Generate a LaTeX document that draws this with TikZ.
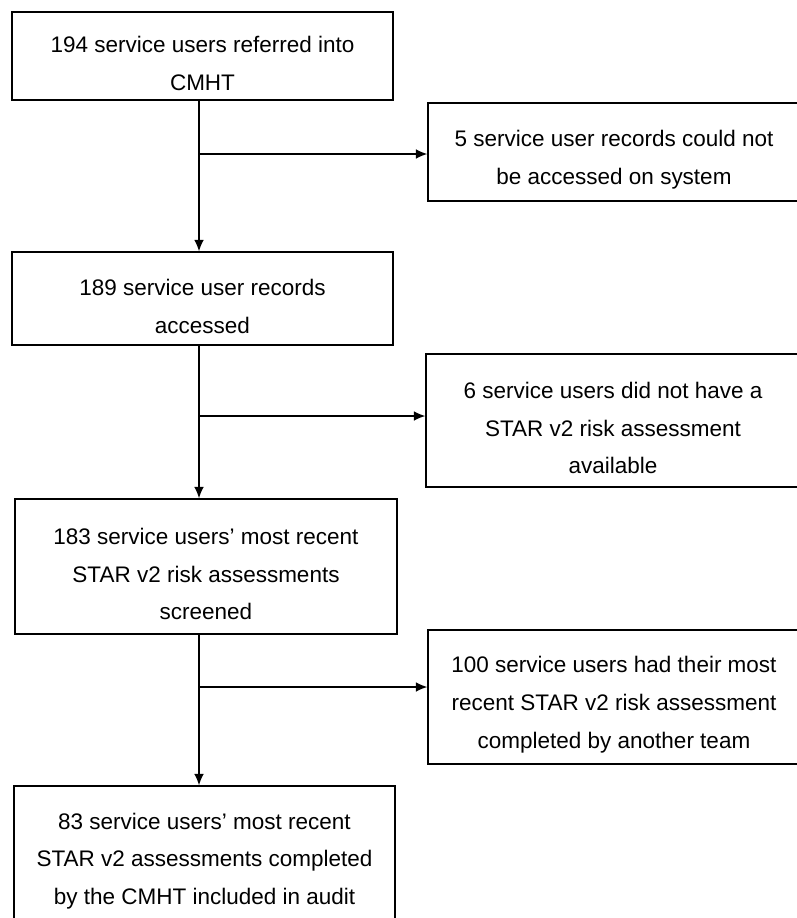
\documentclass[tikz,border=0pt]{standalone}
\usepackage{fontspec}
\setmainfont{Liberation Sans}
\usetikzlibrary{arrows.meta}

\newcommand{\topgap}{\rule{0pt}{18pt}}

\begin{document}
\begin{tikzpicture}[
    >={Latex[length=6.5pt,width=5.5pt]},
    font=\fontsize{12.8}{21.5}\selectfont,
    stage/.style={draw, line width=0.8pt, align=center, inner sep=0pt},
    link/.style={->, line width=0.7pt}
]

\clip (0,0) rectangle (15.94,-18.36);

% main column
\node[stage, minimum width=7.62cm, minimum height=1.76cm] (referred) at (4.05,-1.12)
{\topgap 194 service users referred into\\CMHT};

\node[stage, minimum width=7.62cm, minimum height=1.86cm] (accessed) at (4.05,-5.97)
{\topgap 189 service user records\\accessed};

\node[stage, minimum width=7.64cm, minimum height=2.70cm] (screened) at (4.12,-11.33)
{\topgap 183 service users' most recent\\STAR v2 risk assessments\\screened};

\node[stage, minimum width=7.62cm, minimum height=2.70cm] (included) at (4.09,-17.07)
{\topgap 83 service users' most recent\\STAR v2 assessments completed\\by the CMHT included in audit};

% excluded boxes
\node[stage, minimum width=7.44cm, minimum height=1.96cm] (notaccessed) at (12.28,-3.04)
{\topgap 5 service user records could not\\be accessed on system};

\node[stage, minimum width=7.48cm, minimum height=2.66cm] (nostar) at (12.26,-8.41)
{\topgap 6 service users did not have a\\STAR v2 risk assessment\\available};

\node[stage, minimum width=7.44cm, minimum height=2.68cm] (otherteam) at (12.28,-13.94)
{\topgap 100 service users had their most\\recent STAR v2 risk assessment\\completed by another team};

\coordinate (split1) at (3.98,-3.08);
\coordinate (split2) at (3.98,-8.32);
\coordinate (split3) at (3.98,-13.74);

\draw[link] (referred.south -| split1) -- (accessed.north -| split1);
\draw[link] (accessed.south -| split2) -- (screened.north -| split2);
\draw[link] (screened.south -| split3) -- (included.north -| split3);

\draw[link] (split1) -- (split1 -| notaccessed.west);
\draw[link] (split2) -- (split2 -| nostar.west);
\draw[link] (split3) -- (split3 -| otherteam.west);

\end{tikzpicture}
\end{document}
